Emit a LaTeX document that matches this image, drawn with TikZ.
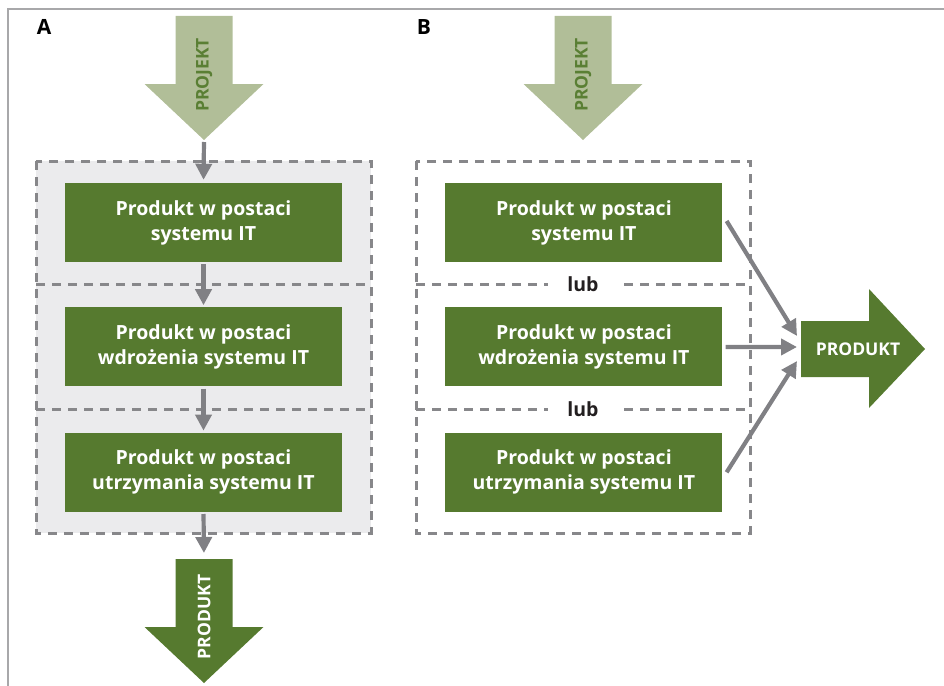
\documentclass[tikz,border=0pt]{standalone}
\usepackage{fontspec}
\setmainfont{Open Sans}
\usetikzlibrary{positioning,arrows.meta,calc}
\definecolor{leaf}{HTML}{567A2F}
\definecolor{sprout}{HTML}{B1BE98}
\definecolor{leafdk}{HTML}{5A7F34}
\definecolor{steel}{HTML}{808084}
\definecolor{dashgray}{HTML}{87878A}
\definecolor{mist}{HTML}{EBEBED}
\definecolor{rim}{HTML}{A8A8AA}
\definecolor{ink}{HTML}{231F20}
\tikzset{
  conn/.style={-{Triangle[length=16pt,width=16pt]}, line width=4.2pt, color=steel},
  prodbox/.style={fill=leaf, text=white, font=\fontsize{19.5}{25}\selectfont\bfseries,
    align=center, minimum width=277pt, minimum height=79pt, inner sep=0pt},
  grp/.style={draw=dashgray, line width=3pt, dash pattern=on 9pt off 7pt},
  bigtxt/.style={font=\fontsize{17.5}{17.5}\selectfont\bfseries, text=#1, inner sep=0pt},
  lubtxt/.style={fill=white, text=ink, font=\fontsize{19.5}{19.5}\selectfont\bfseries,
    inner xsep=19pt, inner ysep=1pt},
  panel/.style={font=\fontsize{21}{21}\selectfont\bfseries, text=black},
}
\begin{document}
\begin{tikzpicture}[x=1pt,y=-1pt]
  \useasboundingbox (0,0) rectangle (944,685);
  \draw[rim, line width=2.6pt] (8,690) -- (8,9) -- (950,9);

  \node[panel] (labA) at (44,27) {A};
  \node[panel] (labB) at (424,27) {B};

  % groups
  \fill[mist] (36,161) rectangle (371,533);
  \draw[grp] (36,161) rectangle (371,533);
  \draw[grp] (36,284) -- (371,284);
  \draw[grp] (36,409) -- (371,409);
  \draw[grp] (416,161) rectangle (750,533);
  \draw[grp] (416,284) -- (750,284);
  \draw[grp] (416,409) -- (750,409);

  % PROJEKT arrows
  \foreach \n/\cx in {A/204,B/583} {
    \fill[sprout] (\cx-28.5,16) -- (\cx+28.5,16) -- (\cx+28.5,84) -- (\cx+59.5,84)
      -- (\cx,140) -- (\cx-59.5,84) -- (\cx-28.5,84) -- cycle;
    \node[bigtxt=leafdk, rotate=90] (proj\n) at (\cx,75) {PROJEKT};
    \coordinate (proj\n tip) at (\cx,140);
  }

  % products, panel A
  \node[prodbox] (boxA1) at (203.5,222.5) {Produkt w postaci\\systemu IT};
  \node[prodbox, below=45pt of boxA1] (boxA2) {Produkt w postaci\\wdrożenia systemu IT};
  \node[prodbox, below=46pt of boxA2] (boxA3) {Produkt w postaci\\utrzymania systemu IT};

  % products, panel B
  \node[prodbox, right=103pt of boxA1] (boxB1) {Produkt w postaci\\systemu IT};
  \node[prodbox, right=103pt of boxA2] (boxB2) {Produkt w postaci\\wdrożenia systemu IT};
  \node[prodbox, right=103pt of boxA3] (boxB3) {Produkt w postaci\\utrzymania systemu IT};
  \node[lubtxt] (lub1) at (583,284) {lub};
  \node[lubtxt] (lub2) at (583,409) {lub};

  % PRODUKT down
  \fill[leaf] (175.5,559) -- (232.5,559) -- (232.5,627) -- (263.5,627) -- (204,683)
    -- (144.5,627) -- (175.5,627) -- cycle;
  \node[bigtxt=white, rotate=90] (prodA) at (204,617) {PRODUKT};
  \coordinate (prodAtop) at (204,559);

  % PRODUKT right
  \fill[leaf] (801,321) -- (869,321) -- (869,289) -- (925,349) -- (869,408)
    -- (869,377) -- (801,377) -- cycle;
  \node[bigtxt=white] (prodB) at (858,349) {PRODUKT};
  \coordinate (prodBin) at (801,349);

  % connectors
  \draw[conn, shorten <=2pt, shorten >=3pt] (projAtip) -- (boxA1.north);
  \draw[conn, shorten <=2pt, shorten >=2pt] (boxA1.south) -- (boxA2.north);
  \draw[conn, shorten <=2pt, shorten >=2pt] (boxA2.south) -- (boxA3.north);
  \draw[conn, shorten <=2pt, shorten >=6pt] (boxA3.south) -- (prodAtop);
  \draw[conn] ([shift={(4,-1.5)}]boxB1.east) -- ([shift={(-4,-13)}]prodBin);
  \draw[conn] ([xshift=3pt]boxB2.east) -- ([shift={(-4,-2)}]prodBin);
  \draw[conn] ([xshift=4pt]boxB3.east) -- ([shift={(-4,12)}]prodBin);
\end{tikzpicture}
\end{document}
